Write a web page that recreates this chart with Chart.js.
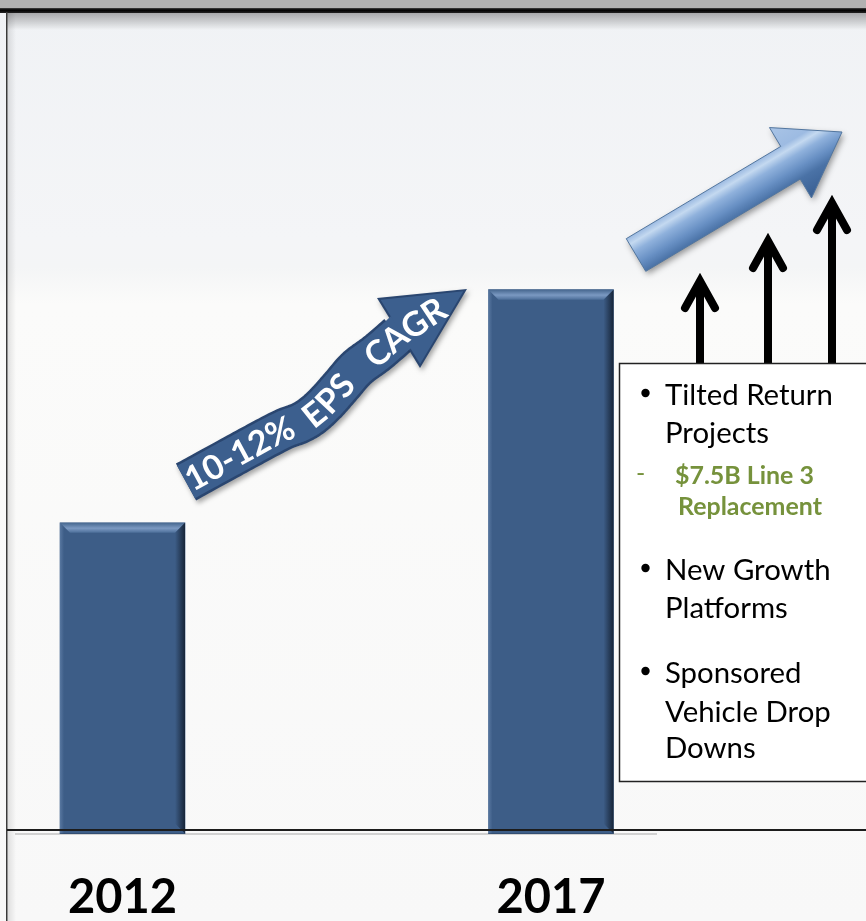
<!DOCTYPE html>
<html>
<head>
<meta charset="utf-8">
<title>EPS growth 2012–2017</title>
<script src="https://cdn.jsdelivr.net/npm/chart.js@4.4.1/dist/chart.umd.min.js"></script>
<style>
  html, body { margin: 0; padding: 0; background: #ffffff; }
  #wrap { width: 866px; height: 921px; position: relative; overflow: hidden; }
  canvas { display: block; }
</style>
</head>
<body>
<div id="wrap"><canvas id="eps" width="866" height="921"></canvas></div>
<script>
// ---- chart data ----
const years = ['2012', '2017'];
const epsIndex = [1.00, 1.75];          // EPS, 2012 = 1.00
const growthWords = ['10-12%', 'EPS', 'CAGR'];
const driverItems = [
  { kind: 'bullet', lines: ['Tilted Return', 'Projects'] },
  { kind: 'sub',    lines: ['$7.5B Line 3', 'Replacement'] },
  { kind: 'bullet', lines: ['New Growth', 'Platforms'] },
  { kind: 'bullet', lines: ['Sponsored', 'Vehicle Drop', 'Downs'] }
];

const BAR_BLUE = '#3d5d87';
const GREEN = '#76923c';

// ---- helpers ----
function catmullRom(pts, n) {
  const out = [];
  for (let i = 0; i < pts.length - 1; i++) {
    const p0 = pts[Math.max(i - 1, 0)], p1 = pts[i], p2 = pts[i + 1], p3 = pts[Math.min(i + 2, pts.length - 1)];
    for (let k = 0; k < n; k++) {
      const t = k / n, t2 = t * t, t3 = t2 * t;
      const f = (a, b, c, d) => 0.5 * ((2 * b) + (-a + c) * t + (2 * a - 5 * b + 4 * c - d) * t2 + (-a + 3 * b - 3 * c + d) * t3);
      out.push([f(p0[0], p1[0], p2[0], p3[0]), f(p0[1], p1[1], p2[1], p3[1])]);
    }
  }
  out.push(pts[pts.length - 1]);
  return out;
}

function walker(poly) {
  const cum = [0];
  for (let i = 1; i < poly.length; i++) {
    cum.push(cum[i - 1] + Math.hypot(poly[i][0] - poly[i - 1][0], poly[i][1] - poly[i - 1][1]));
  }
  const at = s => {
    s = Math.max(0, Math.min(s, cum[cum.length - 1]));
    let i = 1;
    while (i < cum.length - 1 && cum[i] < s) i++;
    const seg = cum[i] - cum[i - 1] || 1;
    const t = (s - cum[i - 1]) / seg;
    return [poly[i - 1][0] + (poly[i][0] - poly[i - 1][0]) * t, poly[i - 1][1] + (poly[i][1] - poly[i - 1][1]) * t];
  };
  return s => {
    const p = at(s), a = at(s - 7), b = at(s + 7);
    return { x: p[0], y: p[1], angle: Math.atan2(b[1] - a[1], b[0] - a[0]) };
  };
}

function strokePoly(ctx, poly, width, color) {
  ctx.beginPath();
  ctx.moveTo(poly[0][0], poly[0][1]);
  for (let i = 1; i < poly.length; i++) ctx.lineTo(poly[i][0], poly[i][1]);
  ctx.lineWidth = width;
  ctx.strokeStyle = color;
  ctx.stroke();
}

// ---- page backdrop: frame, top rule and soft background ----
function drawBackdrop(ctx, w, h) {
  const bg = ctx.createLinearGradient(0, 0, 0, h);
  bg.addColorStop(0.00, '#f0f2f5');
  bg.addColorStop(0.26, '#f4f5f7');
  bg.addColorStop(0.29, '#f4f5f6');
  bg.addColorStop(0.33, '#fbfbfa');
  bg.addColorStop(1.00, '#f8f8f8');
  ctx.fillStyle = bg;
  ctx.fillRect(0, 0, w, h);

  ctx.fillStyle = '#b1b1b1';
  ctx.fillRect(0, 0, w, 8);
  const rule = ctx.createLinearGradient(0, 8, 0, 13);
  rule.addColorStop(0, '#444');
  rule.addColorStop(0.4, '#000');
  rule.addColorStop(1, '#222');
  ctx.fillStyle = rule;
  ctx.fillRect(0, 8, w, 5);
  const sh = ctx.createLinearGradient(0, 13, 0, 30);
  sh.addColorStop(0, 'rgba(0,0,0,0.30)');
  sh.addColorStop(1, 'rgba(0,0,0,0)');
  ctx.fillStyle = sh;
  ctx.fillRect(7, 13, w, 17);

  ctx.fillStyle = '#3a3a3a';
  ctx.fillRect(6, 12, 1.5, h - 12);
  const side = ctx.createLinearGradient(8, 0, 16, 0);
  side.addColorStop(0, 'rgba(0,0,0,0.10)');
  side.addColorStop(1, 'rgba(0,0,0,0)');
  ctx.fillStyle = side;
  ctx.fillRect(7.5, 13, 9, h - 13);
}

// ---- bevel on each bar ----
function drawBevels(chart) {
  const ctx = chart.ctx;
  chart.getDatasetMeta(0).data.forEach(bar => {
    const { x, y, base, width } = bar.getProps(['x', 'y', 'base', 'width'], true);
    const l = x - width / 2, r = x + width / 2, d = 10;
    ctx.save();
    const top = ctx.createLinearGradient(0, y, 0, y + d);
    top.addColorStop(0, '#46678f');
    top.addColorStop(0.55, '#7b99c2');
    top.addColorStop(1, '#4d6f9a');
    ctx.fillStyle = top;
    ctx.beginPath();
    ctx.moveTo(l, y); ctx.lineTo(r, y); ctx.lineTo(r - d, y + d); ctx.lineTo(l + d, y + d);
    ctx.closePath(); ctx.fill();

    const right = ctx.createLinearGradient(r - d, 0, r, 0);
    right.addColorStop(0, 'rgba(10,18,30,0)');
    right.addColorStop(1, 'rgba(10,18,30,0.75)');
    ctx.fillStyle = right;
    ctx.beginPath();
    ctx.moveTo(r, y); ctx.lineTo(r, base); ctx.lineTo(r - d, base - d); ctx.lineTo(r - d, y + d);
    ctx.closePath(); ctx.fill();

    const left = ctx.createLinearGradient(l, 0, l + 4, 0);
    left.addColorStop(0, 'rgba(120,150,190,0.45)');
    left.addColorStop(1, 'rgba(120,150,190,0)');
    ctx.fillStyle = left;
    ctx.beginPath();
    ctx.moveTo(l, y); ctx.lineTo(l + d, y + d); ctx.lineTo(l + 4, base); ctx.lineTo(l, base);
    ctx.closePath(); ctx.fill();
    ctx.restore();
  });
}

// ---- wavy growth arrow with text ----
function drawGrowthArrow(ctx) {
  const spine = [[186, 482], [237, 454], [280, 431], [300, 423], [313, 415], [327, 402],
                 [342, 385], [357, 368], [377, 353], [398, 335]];
  const tip = [467, 289], barbA = [377, 298], barbB = [420, 368];
  const body = catmullRom(spine, 16);
  const hx = (tip[0] - 398.5), hy = (tip[1] - 333);
  const hl = Math.hypot(hx, hy);
  const ext = body.concat([[398.5 + hx / hl * 6, 333 + hy / hl * 6]]);

  ctx.save();
  ctx.lineJoin = 'round';
  ctx.lineCap = 'butt';
  ctx.shadowColor = 'rgba(0,0,0,0.35)';
  ctx.shadowBlur = 5; ctx.shadowOffsetX = 2; ctx.shadowOffsetY = 3;
  strokePoly(ctx, body, 42, '#2a4670');
  ctx.beginPath();
  ctx.moveTo(barbA[0], barbA[1]); ctx.lineTo(tip[0], tip[1]); ctx.lineTo(barbB[0], barbB[1]);
  ctx.closePath();
  ctx.fillStyle = '#2a4670';
  ctx.fill();
  ctx.shadowColor = 'transparent';

  strokePoly(ctx, ext, 37, '#3c5f8e');
  const cx = (barbA[0] + tip[0] + barbB[0]) / 3, cy = (barbA[1] + tip[1] + barbB[1]) / 3;
  const k = 0.92;
  ctx.beginPath();
  [barbA, tip, barbB].forEach((p, i) => {
    const px = cx + (p[0] - cx) * k, py = cy + (p[1] - cy) * k;
    i ? ctx.lineTo(px, py) : ctx.moveTo(px, py);
  });
  ctx.closePath();
  ctx.fillStyle = '#3c5f8e';
  ctx.fill();

  // text along the arrow
  const along = walker(body.concat([tip]));
  const size = 34;
  ctx.font = `bold ${size}px Lato`;
  ctx.fillStyle = '#ffffff';
  ctx.textAlign = 'center';
  ctx.textBaseline = 'alphabetic';
  const centres = [61, 165, 268];
  growthWords.forEach((word, wi) => {
    const total = ctx.measureText(word).width;
    let s = centres[wi] - total / 2;
    for (const ch of word) {
      const cw = ctx.measureText(ch).width;
      const p = along(s + cw / 2);
      ctx.save();
      ctx.translate(p.x, p.y);
      ctx.rotate(p.angle);
      ctx.fillText(ch, 0, size * 0.36);
      ctx.restore();
      s += cw;
    }
  });
  ctx.restore();
}

// ---- light blue arrow over the drivers ----
function drawOutlookArrow(ctx) {
  const T = [636, 255], tip = [842, 132];
  const len = Math.hypot(tip[0] - T[0], tip[1] - T[1]);
  const u = [(tip[0] - T[0]) / len, (tip[1] - T[1]) / len];
  const n = [-u[1], u[0]];
  const headLen = 60, shaft = 19, head = 41;
  const H = [tip[0] - u[0] * headLen, tip[1] - u[1] * headLen];
  const P = (c, s) => [c[0] + n[0] * s, c[1] + n[1] * s];
  const pts = [P(T, -shaft), P(H, -shaft), P(H, -head), tip, P(H, head), P(H, shaft), P(T, shaft)];

  ctx.save();
  const g0 = P(H, -head), g1 = P(H, head);
  const grad = ctx.createLinearGradient(g0[0], g0[1], g1[0], g1[1]);
  grad.addColorStop(0.00, '#a9c4e6');
  grad.addColorStop(0.27, '#9dbbe2');
  grad.addColorStop(0.35, '#c4d9f0');
  grad.addColorStop(0.45, '#8fb1dc');
  grad.addColorStop(0.60, '#6890c4');
  grad.addColorStop(0.73, '#4a72a6');
  grad.addColorStop(1.00, '#385e92');
  ctx.shadowColor = 'rgba(0,0,0,0.40)';
  ctx.shadowBlur = 6; ctx.shadowOffsetX = 2; ctx.shadowOffsetY = 3;
  ctx.beginPath();
  pts.forEach((p, i) => i ? ctx.lineTo(p[0], p[1]) : ctx.moveTo(p[0], p[1]));
  ctx.closePath();
  ctx.fillStyle = grad;
  ctx.fill();
  ctx.shadowColor = 'transparent';
  ctx.lineWidth = 1;
  ctx.strokeStyle = '#52769f';
  ctx.stroke();
  ctx.restore();
}

// ---- three black up arrows ----
function drawUpArrows(ctx, boxTop) {
  const arrows = [[700, 277], [768, 237], [832, 199]];
  ctx.save();
  ctx.strokeStyle = '#000';
  ctx.lineWidth = 8;
  arrows.forEach(([x, tipY]) => {
    ctx.lineCap = 'butt';
    ctx.beginPath();
    ctx.moveTo(x, tipY + 6); ctx.lineTo(x, boxTop);
    ctx.stroke();
    ctx.lineCap = 'round';
    ctx.lineJoin = 'miter';
    ctx.miterLimit = 10;
    ctx.beginPath();
    ctx.moveTo(x - 15, tipY + 31); ctx.lineTo(x, tipY + 4); ctx.lineTo(x + 15, tipY + 31);
    ctx.stroke();
  });
  ctx.restore();
}

// ---- text box listing growth drivers ----
function drawDriverBox(ctx) {
  const bx = 619, by = 363, bw = 260, bh = 418;
  ctx.save();
  ctx.fillStyle = '#ffffff';
  ctx.fillRect(bx, by, bw, bh);
  ctx.strokeStyle = '#222';
  ctx.lineWidth = 1.5;
  ctx.strokeRect(bx + 0.5, by + 0.5, bw, bh);

  ctx.font = '100px Lato';
  const regSize = 100 * 168 / ctx.measureText('Tilted Return').width;
  ctx.font = 'bold 100px Lato';
  const subSize = 100 * 144 / ctx.measureText('Replacement').width;

  const baselines = [[405, 443], [484, 515], [580, 618], [683, 722, 758]];
  ctx.textBaseline = 'alphabetic';
  ctx.textAlign = 'left';
  driverItems.forEach((item, i) => {
    const ys = baselines[i];
    if (item.kind === 'bullet') {
      ctx.fillStyle = '#000';
      ctx.beginPath();
      ctx.arc(645.5, ys[0] - 12, 4.2, 0, Math.PI * 2);
      ctx.fill();
      ctx.font = `${regSize}px Lato`;
      item.lines.forEach((t, j) => ctx.fillText(t, 665, ys[j]));
    } else {
      ctx.fillStyle = GREEN;
      ctx.font = `${subSize}px Lato`;
      ctx.fillText('-', 636, ys[0] - 2);
      ctx.font = `bold ${subSize}px Lato`;
      ctx.fillText(item.lines[0], 675, ys[0]);
      ctx.fillText(item.lines[1], 678, ys[1]);
    }
  });
  ctx.restore();
}

const scene = {
  id: 'scene',
  beforeDraw(chart) {
    drawBackdrop(chart.ctx, chart.width, chart.height);
  },
  afterDatasetsDraw(chart) {
    const ctx = chart.ctx;
    drawBevels(chart);
    // axis rule across the bars
    ctx.save();
    ctx.fillStyle = 'rgba(0,0,0,0.16)';
    ctx.fillRect(15, 833, 642, 2);
    ctx.fillStyle = '#1c1c1c';
    ctx.fillRect(7, 829, chart.width - 7, 2);
    ctx.restore();
    drawGrowthArrow(ctx);
    drawOutlookArrow(ctx);
    drawUpArrows(ctx, 363);
    drawDriverBox(ctx);
  }
};

new Chart(document.getElementById('eps'), {
  type: 'bar',
  data: {
    labels: years,
    datasets: [{
      data: epsIndex,
      backgroundColor: BAR_BLUE,
      borderWidth: 0,
      barThickness: 125,
      clip: false
    }]
  },
  options: {
    responsive: false,
    animation: false,
    devicePixelRatio: 1,
    layout: { padding: { left: 122.5, right: 315, top: 13, bottom: 0 } },
    plugins: { legend: { display: false }, tooltip: { enabled: false } },
    scales: {
      x: {
        type: 'category',
        offset: false,
        grid: { display: false, drawTicks: false },
        border: { display: false },
        ticks: {
          padding: 0,
          color: '#000',
          autoSkip: false,
          maxRotation: 0,
          font: { family: 'Lato', weight: 'bold', size: 47, lineHeight: 1 }
        }
      },
      y: { display: false, min: -0.13, max: 2.64 }
    }
  },
  plugins: [scene]
});
</script>
</body>
</html>
